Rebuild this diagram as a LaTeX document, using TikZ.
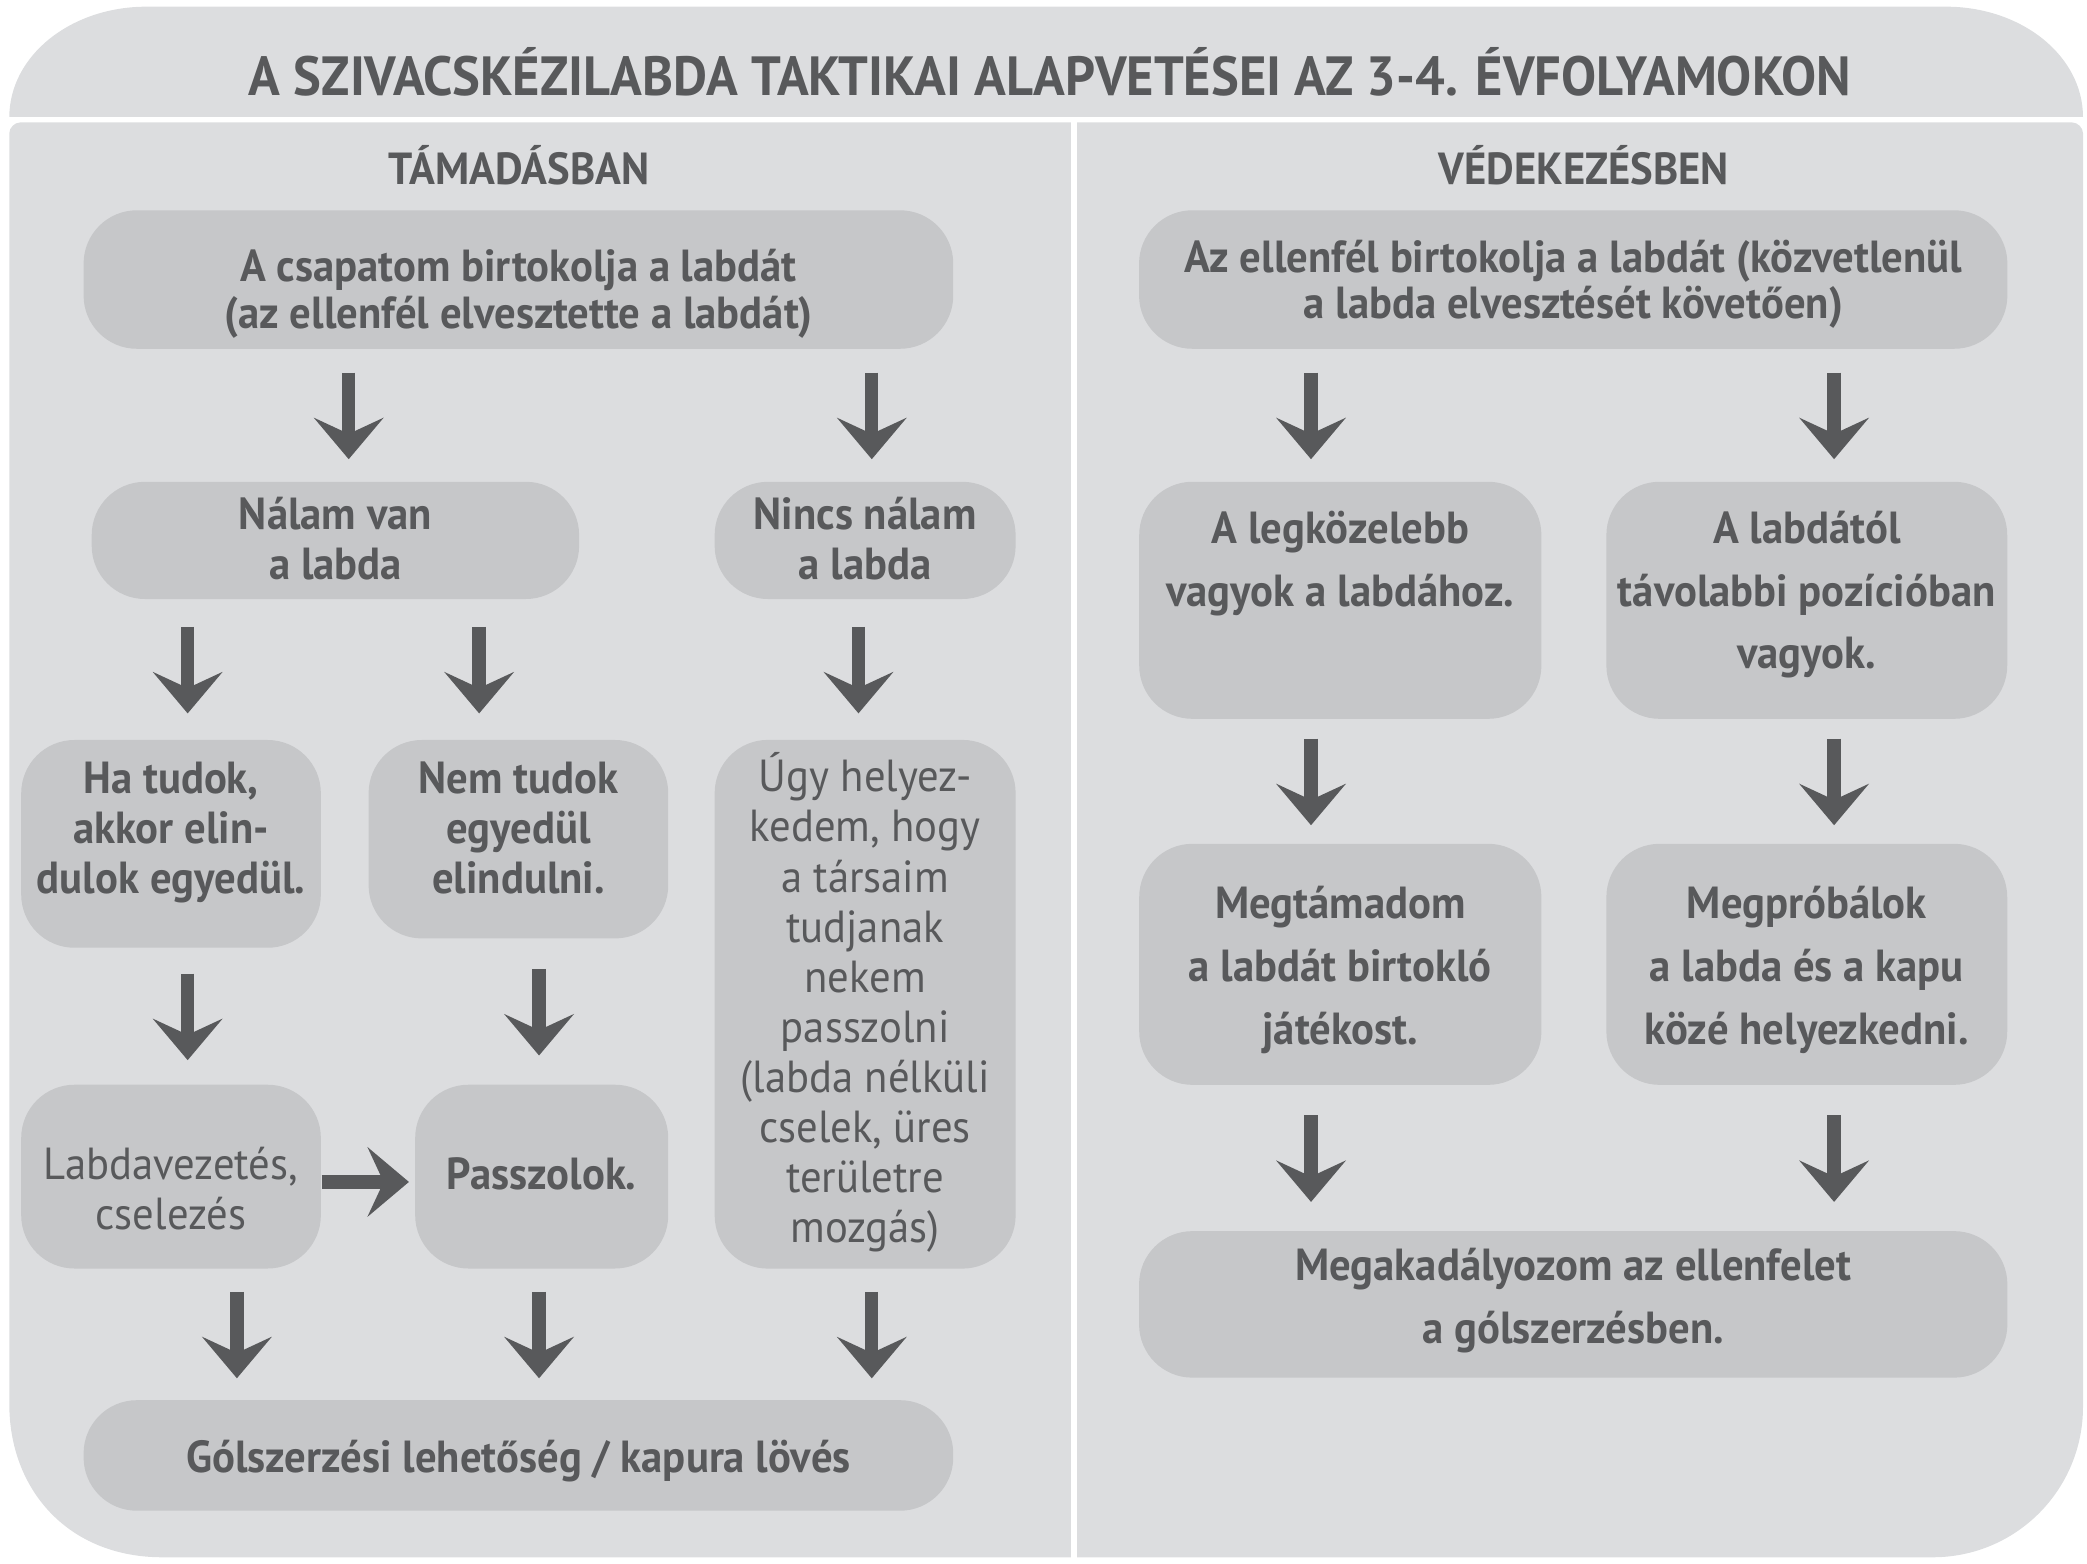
\documentclass[tikz,border=0pt]{standalone}
\usepackage{fontspec}
\setmainfont{PT Sans}[FakeStretch=0.95]
\usetikzlibrary{arrows.meta,calc}

\definecolor{panelgray}{HTML}{DCDDDF}
\definecolor{boxgray}{HTML}{C6C7C9}
\definecolor{inkgray}{HTML}{58595B}

\tikzstyle{box}=[fill=boxgray,text=inkgray,rounded corners=0.4cm,inner sep=0pt,align=center,text depth=0pt,font=\bfseries\fontsize{9.6}{10}\selectfont]
\tikzstyle{mid}=[font=\bfseries\fontsize{9.6}{10.7}\selectfont]
\tikzstyle{loose}=[font=\bfseries\fontsize{9.6}{13.4}\selectfont]
\tikzstyle{plain}=[font=\mdseries\fontsize{9.6}{10.7}\selectfont]
\tikzstyle{heading}=[text=inkgray,font=\bfseries\fontsize{9.6}{11}\selectfont]
\tikzstyle{arrow}=[draw=inkgray,line width=0.1cm,-{Stealth[length=0.31cm,width=0.52cm,inset=0.12cm]}]

\begin{document}
\begin{tikzpicture}[x=0.01cm,y=-0.01cm]
\useasboundingbox (0,0) rectangle (1568,1174.5);
% background shapes
\fill[panelgray] (7,88) .. controls (7,42) and (53,5) .. (110,5) -- (1462,5)
  .. controls (1519,5) and (1565,42) .. (1565,88) -- cycle;
\fill[panelgray] (805,92) -- (15,92) .. controls (11,92) and (7,96) .. (7,100)
  -- (7,1055) .. controls (7,1119) and (51,1170) .. (122,1170) -- (805,1170) -- cycle;
\fill[panelgray] (809,92) -- (1557,92) .. controls (1561,92) and (1565,96) .. (1565,100)
  -- (1565,1057) .. controls (1565,1119) and (1515,1170) .. (1452,1170) -- (809,1170) -- cycle;

\node[text=inkgray,font=\bfseries\fontsize{11.8}{13}\selectfont] (title) at (789,54)
  {A SZIVACSKÉZILABDA TAKTIKAI ALAPVETÉSEI AZ 3-4. ÉVFOLYAMOKON};
\node[heading] (hdatt) at (390,124) {TÁMADÁSBAN};
\node[heading] (hddef) at (1190,124) {VÉDEKEZÉSBEN};

% attack side
\node[box,minimum width=6.53cm,minimum height=1.04cm,text height=0.73cm] (top) at (389.5,210)
  {A csapatom birtokolja a labdát\\(az ellenfél elvesztette a labdát)};
\node[box,minimum width=3.66cm,minimum height=0.88cm,mid,text height=0.59cm] (nalam) at (252,406)
  {Nálam van\\a labda};
\node[box,minimum width=2.26cm,minimum height=0.88cm,mid,text height=0.59cm] (nincs) at (650,406)
  {Nincs nálam\\a labda};
\node[box,minimum width=2.25cm,minimum height=1.56cm,mid,text height=0.75cm] (hatudok) at (128.5,634)
  {Ha tudok,\\akkor elin-\\dulok egyedül.};
\node[box,minimum width=2.25cm,minimum height=1.49cm,mid,text height=0.82cm] (nemtudok) at (389.5,630.5)
  {Nem tudok\\egyedül\\elindulni.};
\node[box,minimum width=2.26cm,minimum height=3.97cm,plain,text height=3.58cm] (ugy) at (650,754.5)
  {Úgy helyez-\\kedem, hogy\\a társaim\\tudjanak\\nekem\\passzolni\\(labda nélküli\\cselek, üres\\területre\\mozgás)};
\node[box,minimum width=2.25cm,minimum height=1.38cm,plain,text height=0.79cm] (labdavez) at (128.5,884)
  {Labdavezetés,\\cselezés};
\node[box,minimum width=1.90cm,minimum height=1.38cm,text height=0.19cm] (passz) at (407,884)
  {Passzolok.};
\node[box,minimum width=6.53cm,minimum height=0.83cm,text height=0.26cm] (gol) at (389.5,1093.5)
  {Gólszerzési lehetőség / kapura lövés};

% defence side
\node[box,minimum width=6.52cm,minimum height=1.04cm,text height=0.59cm] (ell) at (1182,210)
  {Az ellenfél birtokolja a labdát (közvetlenül\\a labda elvesztését követően)};
\node[box,minimum width=3.02cm,minimum height=1.78cm,loose,text height=0.09cm] (legk) at (1007,451)
  {A legközelebb\\vagyok a labdához.};
\node[box,minimum width=3.01cm,minimum height=1.78cm,loose,text height=1.03cm] (tav) at (1357.5,451)
  {A labdától\\távolabbi pozícióban\\vagyok.};
\node[box,minimum width=3.02cm,minimum height=1.81cm,loose,text height=1.20cm] (megt) at (1007,724.5)
  {Megtámadom\\a labdát birtokló\\játékost.};
\node[box,minimum width=3.01cm,minimum height=1.81cm,loose,text height=1.20cm] (megp) at (1357.5,724.5)
  {Megpróbálok\\a labda és a kapu\\közé helyezkedni.};
\node[box,minimum width=6.52cm,minimum height=1.10cm,loose,text height=0.59cm] (megak) at (1182,980)
  {Megakadályozom az ellenfelet\\a gólszerzésben.};

% dividing lines
\draw[white,line width=0.04cm] (7,90) -- (1565,90);
\draw[white,line width=0.04cm] (807,90) -- (807,1174);

% arrows
\foreach \src/\dst/\dx in {top/nalam/10, top/nincs/5, nalam/hatudok/12.5,
                           nalam/nemtudok/-29.5, nincs/ugy/-5, hatudok/labdavez/12.5,
                           nemtudok/passz/-2, labdavez/gol/-211.5, passz/gol/15.5,
                           ugy/gol/265.5, ell/legk/-22, ell/tav/20.5, legk/megt/-22,
                           tav/megp/20.5, megt/megak/-197, megp/megak/196}{
  \coordinate (m0) at ($(\src.south)!.5!(\dst.north)$);
  \coordinate (m) at (m0 -| \dst.north);
  \draw[arrow] ([shift={(\dx,-32)}]m) -- ([shift={(\dx,33)}]m);
}
\draw[arrow] ([yshift=-0.04cm]labdavez.east) -- ([yshift=-0.04cm,xshift=-0.04cm]passz.west);
\end{tikzpicture}
\end{document}
